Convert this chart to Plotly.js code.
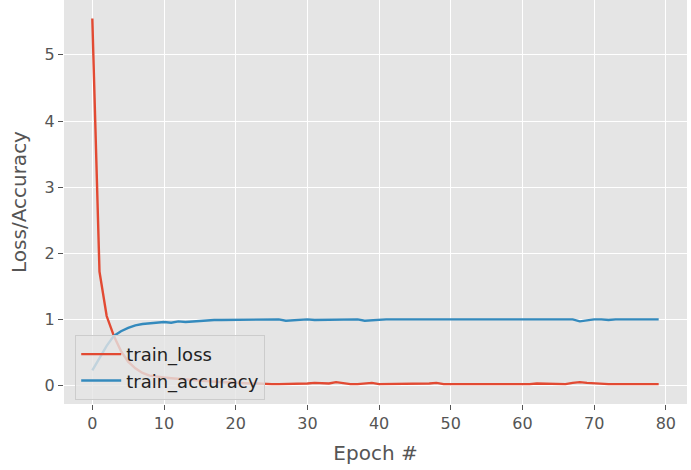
<!DOCTYPE html>
<html>
<head>
<meta charset="utf-8">
<script src="https://cdn.plot.ly/plotly-3.0.1.min.js"></script>
<style>
  html, body { margin: 0; padding: 0; background: #fff; }
  #chart { width: 691px; height: 470px; }
</style>
</head>
<body>
<div id="chart"></div>
<script>
// training history
const epochs = Array.from({ length: 80 }, (_, i) => i);

const trainLoss = [
    5.55, 1.72, 1.05, 0.75, 0.52, 0.36, 0.26, 0.19, 0.15, 0.13,
    0.12, 0.11, 0.10, 0.10, 0.09, 0.08, 0.07, 0.06, 0.05, 0.05,
    0.04, 0.03, 0.03, 0.03, 0.02, 0.02, 0.02, 0.02, 0.03, 0.02,
    0.03, 0.04, 0.03, 0.03, 0.05, 0.03, 0.02, 0.02, 0.03, 0.04,
    0.02, 0.02, 0.02, 0.02, 0.02, 0.02, 0.02, 0.03, 0.04, 0.02,
    0.02, 0.02, 0.02, 0.02, 0.01, 0.01, 0.01, 0.01, 0.01, 0.02,
    0.02, 0.02, 0.03, 0.03, 0.02, 0.02, 0.02, 0.04, 0.05, 0.04,
    0.03, 0.02, 0.02, 0.02, 0.02, 0.02, 0.02, 0.02, 0.02, 0.02,
];

const trainAcc = [
    0.23, 0.42, 0.60, 0.75, 0.82, 0.87, 0.91, 0.93, 0.94, 0.96,
    0.96, 0.95, 0.97, 0.96, 0.97, 0.98, 0.98, 0.99, 0.99, 0.99,
    1.00, 0.99, 1.00, 1.00, 0.99, 1.00, 1.00, 0.98, 0.99, 1.00,
    1.00, 0.99, 0.99, 1.00, 1.00, 0.99, 1.00, 1.00, 0.98, 0.99,
    1.00, 1.00, 1.00, 1.00, 0.99, 1.00, 0.99, 0.99, 1.00, 1.00,
    1.00, 1.00, 1.00, 1.00, 1.00, 1.00, 0.99, 1.00, 1.00, 1.00,
    1.00, 1.00, 1.00, 0.99, 1.00, 1.00, 1.00, 1.00, 0.97, 0.99,
    1.00, 1.00, 0.99, 1.00, 1.00, 1.00, 1.00, 1.00, 1.00, 1.00,
];

const red = '#E24A33', blue = '#348ABD', ink = '#555555';

const traces = [
    { type: 'scatter', mode: 'lines', name: 'train_loss', x: epochs, y: trainLoss,
      line: { color: red, width: 2.4 } },
    { type: 'scatter', mode: 'lines', name: 'train_accuracy', x: epochs, y: trainAcc,
      line: { color: blue, width: 2.4 } },
];

const axisBase = {
    showgrid: true, gridcolor: '#ffffff', gridwidth: 1.4,
    zeroline: false, showline: false,
    ticks: 'outside', ticklen: 5, tickwidth: 1.2, tickcolor: ink,
    tickfont: { family: 'DejaVu Sans', size: 16, color: ink },
};

const layout = {
    width: 691, height: 470,
    paper_bgcolor: '#ffffff', plot_bgcolor: '#E5E5E5',
    font: { family: 'DejaVu Sans', color: ink },
    margin: { l: 64, r: 4, t: 0, b: 66 },
    xaxis: { ...axisBase, range: [-3.95, 82.95], tickvals: [0, 10, 20, 30, 40, 50, 60, 70, 80],
             title: { text: 'Epoch #', font: { size: 20, color: ink }, standoff: 13 } },
    yaxis: { ...axisBase, range: [-0.28, 5.83], tickvals: [0, 1, 2, 3, 4, 5],
             title: { text: 'Loss/Accuracy', font: { size: 20, color: ink }, standoff: 12 } },
    showlegend: true,
    legend: {
        x: 0.018, y: 0.01, xanchor: 'left', yanchor: 'bottom',
        bgcolor: 'rgba(229,229,229,0.8)', bordercolor: '#cccccc', borderwidth: 1,
        font: { family: 'DejaVu Sans', size: 18, color: '#222222' },
        itemwidth: 40,
    },
};

Plotly.newPlot('chart', traces, layout, { displayModeBar: false, responsive: false });
</script>
</body>
</html>
